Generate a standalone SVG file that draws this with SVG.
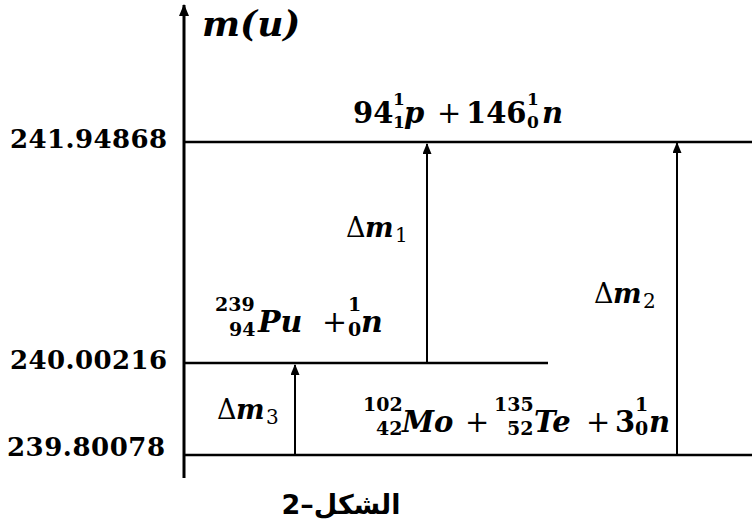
<svg xmlns="http://www.w3.org/2000/svg" width="752" height="527" viewBox="0 0 752 527">
<style>
.num{font-family:"DejaVu Serif","Liberation Serif",serif;font-weight:bold;font-size:26px;fill:#000}
.bd{font-family:"DejaVu Serif","Liberation Serif",serif;font-weight:bold;fill:#000}
.bi{font-family:"DejaVu Serif","Liberation Serif",serif;font-weight:bold;font-style:italic;fill:#000}
.rg{font-family:"DejaVu Serif","Liberation Serif",serif;font-weight:normal;fill:#000}
.lvl{stroke:#000;stroke-width:2.5;fill:none}
.arr{stroke:#000;stroke-width:2;fill:none;marker-end:url(#ah)}
.cap{font-family:"DejaVu Sans",sans-serif;font-weight:bold;font-size:27px;fill:#000}
</style>
<defs>
<marker id="ah" viewBox="0 0 11 9" refX="10" refY="4.5" markerWidth="11" markerHeight="9" orient="auto" markerUnits="userSpaceOnUse">
<path d="M0,0 L11,4.5 L0,9 z" fill="#000"/>
</marker>
<marker id="ahAxis" viewBox="0 0 12 10" refX="11" refY="5" markerWidth="12" markerHeight="10" orient="auto" markerUnits="userSpaceOnUse">
<path d="M0,0 L12,5 L0,10 z" fill="#000"/>
</marker>
</defs>
<rect width="752" height="527" fill="#fff"/>

<g id="axis">
<line x1="184" y1="478" x2="184" y2="5" stroke="#000" stroke-width="3" marker-end="url(#ahAxis)"/>
<text x="202" y="36" class="bi" font-size="36">m(u)</text>
</g>

<g id="level-top">
<line class="lvl" x1="184" y1="142" x2="752" y2="142"/>
<text x="10" y="148" class="num" textLength="157" lengthAdjust="spacing">241.94868</text>
<text class="bd" font-size="29" x="353" y="123">94</text>
<text class="bd" font-size="17" x="393" y="105">1</text>
<text class="bd" font-size="17" x="393" y="128">1</text>
<text class="bi" font-size="29" x="404" y="123">p</text>
<text class="rg" font-size="29" x="437" y="123">+</text>
<text class="bd" font-size="29" x="466" y="123">146</text>
<text class="bd" font-size="17" x="527" y="105">1</text>
<text class="bd" font-size="17" x="527" y="128">0</text>
<text class="bi" font-size="29" x="542" y="123">n</text>
</g>

<g id="level-middle">
<line class="lvl" x1="184" y1="363" x2="548" y2="363"/>
<text x="10" y="369" class="num" textLength="157" lengthAdjust="spacing">240.00216</text>
<text class="bd" font-size="19" x="215" y="311">239</text>
<text class="bd" font-size="19" x="229" y="336">94</text>
<text class="bi" font-size="30" x="258" y="332">Pu</text>
<text class="rg" font-size="30" x="322" y="332">+</text>
<text class="bd" font-size="19" x="348" y="311">1</text>
<text class="bd" font-size="19" x="348" y="336">0</text>
<text class="bi" font-size="30" x="361" y="332">n</text>
</g>

<g id="level-bottom">
<line class="lvl" x1="184" y1="455" x2="752" y2="455"/>
<text x="7" y="456" class="num" textLength="158" lengthAdjust="spacing">239.80078</text>
<text class="bd" font-size="19" x="363" y="411">102</text>
<text class="bd" font-size="19" x="376" y="435">42</text>
<text class="bi" font-size="29" x="402" y="432">Mo</text>
<text class="rg" font-size="29" x="465" y="432">+</text>
<text class="bd" font-size="19" x="494" y="411">135</text>
<text class="bd" font-size="19" x="507" y="435">52</text>
<text class="bi" font-size="29" x="534" y="432">Te</text>
<text class="rg" font-size="29" x="586" y="432">+</text>
<text class="bd" font-size="29" x="615" y="432">3</text>
<text class="bd" font-size="19" x="635" y="411">1</text>
<text class="bd" font-size="19" x="635" y="435">0</text>
<text class="bi" font-size="29" x="649" y="432">n</text>
</g>

<g id="connectors">
<line class="arr" x1="427" y1="363" x2="427" y2="144"/>
<line class="arr" x1="677" y1="455" x2="677" y2="143"/>
<line class="arr" x1="295" y1="455" x2="295" y2="365"/>
</g>

<g id="labels">
<text class="rg" font-size="27" x="346" y="237">Δ</text>
<text class="bi" font-size="27" x="365" y="237">m</text>
<text class="rg" font-size="20" x="395" y="242">1</text>
<text class="rg" font-size="27" x="594" y="303">Δ</text>
<text class="bi" font-size="27" x="613" y="303">m</text>
<text class="rg" font-size="20" x="643" y="308">2</text>
<text class="rg" font-size="27" x="217" y="419">Δ</text>
<text class="bi" font-size="27" x="236" y="419">m</text>
<text class="rg" font-size="20" x="266" y="424">3</text>
</g>

<g id="caption">
<text class="cap" x="341" y="514" text-anchor="middle">الشكل–2</text>
</g>
</svg>
